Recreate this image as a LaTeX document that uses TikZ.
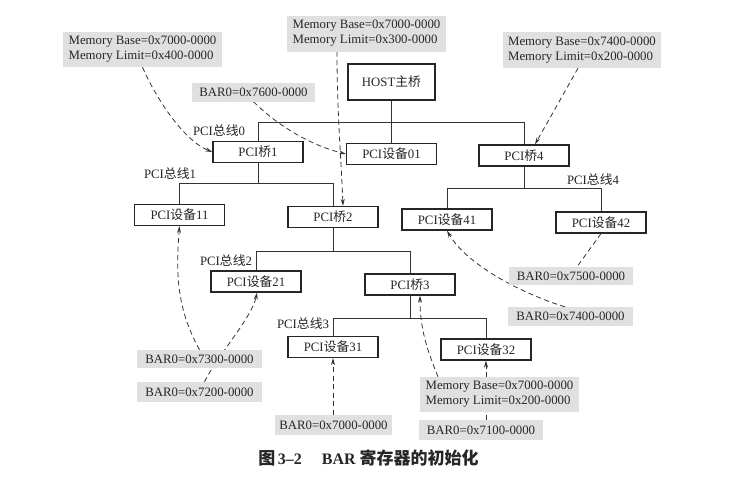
\documentclass[tikz,border=0pt]{standalone}
\usepackage{fontspec}
\setmainfont{Liberation Serif}
\newfontfamily\cjk{Noto Sans CJK SC}
\usetikzlibrary{arrows.meta,backgrounds}
\newcommand\zh[1]{{\cjk #1}}
\begin{document}
\begin{tikzpicture}[x=1pt,y=-1pt,
  every node/.style={font=\fontsize{12.8}{15}\selectfont, text=black!85},
  devbox/.style={draw=black!85, line width=1.2pt, fill=white, minimum width=90pt, minimum height=21pt, inner sep=0pt},
  note/.style={fill=black!12, inner sep=0pt, align=left},
  tree/.style={draw=black!80, line width=1pt},
  refline/.style={draw=black!80, line width=0.8pt, dash pattern=on 5pt off 3.5pt},
  ref/.style={refline, -{Stealth[length=7pt,width=4pt]}},
  buslabel/.style={inner sep=0pt}
]
\useasboundingbox (0,0) rectangle (747,488);

% devices and bridges
\node[devbox, minimum width=87pt, minimum height=36pt] (host) at (391.5,82) {HOST\zh{主桥}};
\node[devbox] (b1) at (258,152) {PCI\zh{桥}1};
\node[devbox] (d01) at (391.5,154) {PCI\zh{设备}01};
\node[devbox] (b4) at (524,155.5) {PCI\zh{桥}4};
\node[devbox] (d11) at (179.5,215) {PCI\zh{设备}11};
\node[devbox] (b2) at (333,217) {PCI\zh{桥}2};
\node[devbox] (d41) at (447,219.5) {PCI\zh{设备}41};
\node[devbox] (d42) at (601,222.5) {PCI\zh{设备}42};
\node[devbox] (d21) at (256,281.5) {PCI\zh{设备}21};
\node[devbox] (b3) at (410,284.5) {PCI\zh{桥}3};
\node[devbox] (d31) at (333,347) {PCI\zh{设备}31};
\node[devbox] (d32) at (486,349.5) {PCI\zh{设备}32};

% bus labels
\node[buslabel] (l0) at (219,131) {PCI\zh{总线}0};
\node[buslabel] (l1) at (170,174) {PCI\zh{总线}1};
\node[buslabel] (l2) at (226,261) {PCI\zh{总线}2};
\node[buslabel] (l3) at (303,324) {PCI\zh{总线}3};
\node[buslabel] (l4) at (593,180) {PCI\zh{总线}4};

% register notes
\node[note, minimum width=159pt, minimum height=35pt] (a1) at (142.5,49.5) {Memory Base=0x7000-0000\\Memory Limit=0x400-0000};
\node[note, minimum width=123pt, minimum height=19pt] (a2) at (253.5,92) {BAR0=0x7600-0000};
\node[note, minimum width=159pt, minimum height=36pt] (a3) at (366.5,33.5) {Memory Base=0x7000-0000\\Memory Limit=0x300-0000};
\node[note, minimum width=158pt, minimum height=36pt] (a4) at (582,50) {Memory Base=0x7400-0000\\Memory Limit=0x200-0000};
\node[note, minimum width=124pt, minimum height=18pt] (a5) at (571,276) {BAR0=0x7500-0000};
\node[note, minimum width=125pt, minimum height=19pt] (a6) at (570.5,316.5) {BAR0=0x7400-0000};
\node[note, minimum width=125pt, minimum height=18pt] (a7) at (199.5,359) {BAR0=0x7300-0000};
\node[note, minimum width=125pt, minimum height=20pt] (a8) at (199.5,392) {BAR0=0x7200-0000};
\node[note, minimum width=117pt, minimum height=20pt] (a9) at (333.5,425) {BAR0=0x7000-0000};
\node[note, minimum width=159pt, minimum height=35pt] (a10) at (499.5,394.5) {Memory Base=0x7000-0000\\Memory Limit=0x200-0000};
\node[note, minimum width=124pt, minimum height=20pt] (a11) at (481,430) {BAR0=0x7100-0000};

% caption
\node (cap) at (368.5,458) {\fontsize{16}{18}\selectfont\bfseries{\fontsize{17}{18}\selectfont\zh{图}}\,3–2\quad\ BAR {\fontsize{17}{18}\selectfont\zh{寄存器的初始化}}};

\coordinate (bus0) at (0,122);
\coordinate (bus1) at (0,183);
\coordinate (bus2) at (0,251);
\coordinate (bus3) at (0,318);
\coordinate (bus4) at (0,188);

\begin{pgfonlayer}{background}
\fill[white] (0,0) rectangle (747,488);
% tree
\draw[tree] (host.south) -- (d01.north);
\draw[tree] (b1.north) -- (b1.north |- bus0) -- (b4.north |- bus0) -- (b4.north);
\draw[tree] (b1.south) -- (b1.south |- bus1);
\draw[tree] (d11.north) -- (d11.north |- bus1) -- (b2.north |- bus1) -- (b2.north);
\draw[tree] (b2.south) -- (b2.south |- bus2);
\draw[tree] (d21.north) -- (d21.north |- bus2) -- (b3.north |- bus2) -- (b3.north);
\draw[tree] (b3.south) -- (b3.south |- bus3);
\draw[tree] (d31.north) -- (d31.north |- bus3) -- (d32.north |- bus3) -- (d32.north);
\draw[tree] (b4.south) -- (b4.south |- bus4);
\draw[tree] (d41.north) -- (d41.north |- bus4) -- (d42.north |- bus4) -- (d42.north);
% register references
\draw[ref] (a1.south) .. controls +(12,28) and +(-30,-12) .. (b1.west);
\draw[ref] (a2.south) .. controls +(20,20) and +(-40,-10) .. (d01.west);
\draw[ref] ([xshift=-29.5pt]a3.south) .. controls +(0,60) and +(-2,-50) .. ([xshift=10pt]b2.north);
\draw[ref] ([xshift=-4pt]a4.south) -- ([xshift=11pt]b4.north);
\draw[refline] (d42.south) -- ([xshift=6pt]a5.north);
\draw[ref] ([xshift=-5.5pt]a6.north) .. controls +(-40,-12) and +(20,35) .. (d41.south);
\draw[ref] (a7.north) .. controls +(-22,-40) and +(-4,50) .. (d11.south);
\draw[ref] ([xshift=5pt]a8.north) .. controls +(12,-25) and +(-5,25) .. ([xshift=1pt]d21.south);
\draw[ref] (d31.south |- a9.north) -- (d31.south);
\draw[ref] ([xshift=-61.5pt]a10.north) .. controls +(-10,-25) and +(0,35) .. ([xshift=10pt]b3.south);
\draw[ref] (d32.south |- a11.north) -- (d32.south);
\end{pgfonlayer}
\end{tikzpicture}
\end{document}
